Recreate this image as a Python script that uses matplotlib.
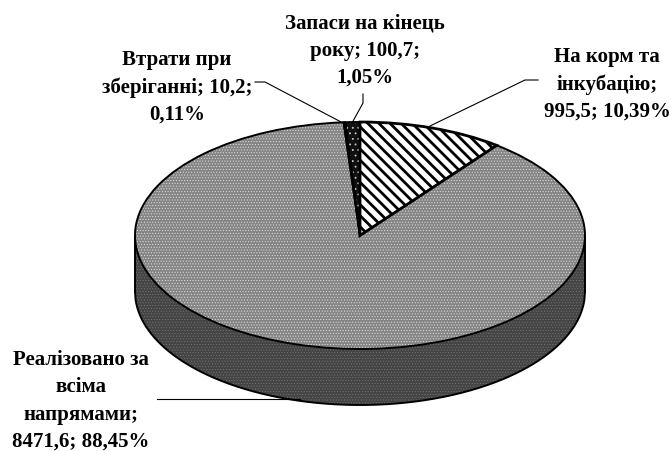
import numpy as np
import matplotlib
matplotlib.use("Agg")
import matplotlib.pyplot as plt
from matplotlib.lines import Line2D

plt.rcParams['font.family'] = ['Liberation Serif', 'DejaVu Serif']

categories = ["На корм та\nінкубацію", "Реалізовано за\nвсіма\nнапрямами", "Втрати при\nзберіганні", "Запаси на кінець\nроку"]
amounts = [995.5, 8471.6, 10.2, 100.7]
shares = ["10,39%", "88,45%", "0,11%", "1,05%"]
label_texts = ["На корм та\nінкубацію;\n995,5; 10,39%",
               "Реалізовано за\nвсіма\nнапрямами;\n8471,6; 88,45%",
               "Втрати при\nзберіганні; 10,2;\n0,11%",
               "Запаси на кінець\nроку; 100,7;\n1,05%"]

W, H = 672, 452
fig = plt.figure(figsize=(W / 100, H / 100), dpi=100, facecolor='white')

cx0, cx1, cy0, cy1 = 135, 585, 123, 350
ax = fig.add_axes([cx0 / W, 1 - cy1 / H, (cx1 - cx0) / W, (cy1 - cy0) / H])
depth = 56 / ((cy1 - cy0) / 2)


def hlw(patch, lw):
    if hasattr(patch, 'set_hatch_linewidth'):
        patch.set_hatch_linewidth(lw)


# side wall
xs = np.linspace(-1, 1, 721)
lower = -np.sqrt(1 - xs ** 2)
side = ax.fill_between(xs, lower, lower - depth, facecolor='#444444',
                       edgecolor='#7a7a7a', hatch='.' * 6, linewidth=0,
                       clip_on=False, zorder=1)
hlw(side, 0.35)
ax.plot(xs, lower - depth, color='black', lw=1.4, clip_on=False, zorder=2)
ax.plot([-1, -1], [0, -depth], color='black', lw=1.4, clip_on=False, zorder=2)
ax.plot([1, 1], [0, -depth], color='black', lw=1.4, clip_on=False, zorder=2)

# top: filled / hatched layer
wedges, _ = ax.pie(amounts, startangle=90, counterclock=False, radius=1,
                   wedgeprops=dict(linewidth=0, clip_on=False, zorder=3))
faces = ['white', '#858585', '#101010', '#101010']
hatch_cols = ['black', '#e4e4e4', '#c8c8c8', '#c8c8c8']
patterns = ['\\\\\\', '.' * 6, '.' * 3, '.' * 3]
lws = [2.0, 0.4, 0.6, 0.6]
for w, f, c, p, l in zip(wedges, faces, hatch_cols, patterns, lws):
    w.set_facecolor(f)
    w.set_edgecolor(c)
    w.set_hatch(p)
    hlw(w, l)

# top: outlines
outlines, _ = ax.pie(amounts, startangle=90, counterclock=False, radius=1,
                     wedgeprops=dict(linewidth=0, clip_on=False, zorder=4, facecolor='none'))
lw_out = [2.0, 1.4, 1.4, 1.4]
for w, l in zip(outlines, lw_out):
    w.set_edgecolor('black')
    w.set_linewidth(l)
ax.set_aspect('auto')
ax.set_xlim(-1, 1)
ax.set_ylim(-1, 1)
ax.axis('off')


def px_line(xp, yp):
    fig.add_artist(Line2D(np.array(xp) / W, 1 - np.array(yp) / H, color='black', lw=0.8, zorder=5))


px_line([538, 525, 430], [81, 81, 127])
px_line([157, 300], [400, 400])
px_line([255, 265, 343], [83, 83, 124])
px_line([363, 363, 352], [95, 104, 124])

label_pos = [(607, 84.5), (81, 401), (177, 87.5), (365, 51)]
for txt, (x, y) in zip(label_texts, label_pos):
    fig.text(x / W, 1 - y / H, txt, ha='center', va='center', fontsize=15,
             fontweight='bold', color='black', linespacing=1.47, multialignment='center')

fig.savefig('out.png', dpi=100, facecolor='white')
